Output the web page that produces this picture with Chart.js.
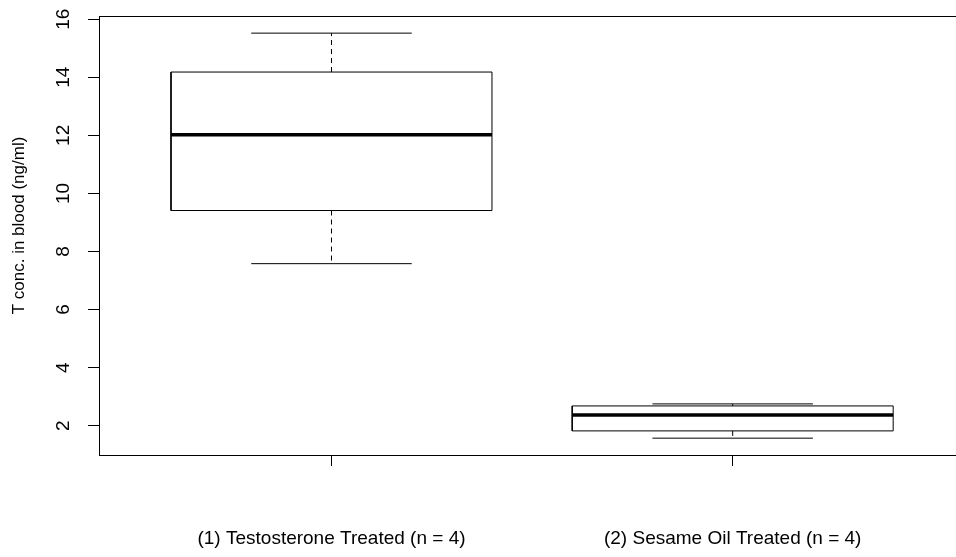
<!DOCTYPE html>
<html lang="en">
<head>
<meta charset="UTF-8">
<title>T conc. in blood boxplot</title>
<script src="https://cdn.jsdelivr.net/npm/chart.js"></script>
<style>
    body { margin: 0; background: #fff; }
    #wrap { width: 956px; height: 557px; }
</style>
</head>
<body>
<div id="wrap"><canvas id="boxChart" width="956" height="557"></canvas></div>
<script>
    // Box statistics, one entry per group
    const groups = ['(1) Testosterone Treated (n = 4)', '(2) Sesame Oil Treated (n = 4)'];
    const whiskerLow = [7.58, 1.57];
    const q1 = [9.41, 1.82];
    const median = [12.02, 2.37];
    const q3 = [14.18, 2.68];
    const whiskerHigh = [15.52, 2.75];
    const yTicks = [2, 4, 6, 8, 10, 12, 14, 16];
    const yTitle = 'T conc. in blood (ng/ml)';

    const BOX_HALF = 0.4, CAP_HALF = 0.2;
    const FONT = '"Liberation Sans", Arial, sans-serif';

    // one straight segment as a line dataset
    function seg(x1, y1, x2, y2, extra) {
        return Object.assign({
            data: [{x: x1, y: y1}, {x: x2, y: y2}],
            borderColor: '#000', borderWidth: 1, pointRadius: 0, fill: false
        }, extra || {});
    }

    const datasets = [];
    groups.forEach((g, i) => {
        const p = i + 1;
        datasets.push({
            data: [
                {x: p - BOX_HALF, y: q1[i]}, {x: p + BOX_HALF, y: q1[i]},
                {x: p + BOX_HALF, y: q3[i]}, {x: p - BOX_HALF, y: q3[i]},
                {x: p - BOX_HALF, y: q1[i]}
            ],
            borderColor: '#000', borderWidth: 1, pointRadius: 0, fill: false
        });
        datasets.push(seg(p - BOX_HALF, median[i], p + BOX_HALF, median[i], {borderWidth: 3.5}));
        datasets.push(seg(p, q3[i], p, whiskerHigh[i], {borderDash: [5, 4]}));
        datasets.push(seg(p, q1[i], p, whiskerLow[i], {borderDash: [5, 4]}));
        datasets.push(seg(p - CAP_HALF, whiskerHigh[i], p + CAP_HALF, whiskerHigh[i]));
        datasets.push(seg(p - CAP_HALF, whiskerLow[i], p + CAP_HALF, whiskerLow[i]));
    });

    // rotated y tick labels and axis title, like base R
    const yLabels = {
        id: 'yLabels',
        afterDraw(chart) {
            const ctx = chart.ctx;
            const y = chart.scales.y;
            const left = chart.chartArea.left;
            ctx.save();
            ctx.fillStyle = '#000';
            ctx.textAlign = 'center';
            ctx.textBaseline = 'middle';
            ctx.font = '19px ' + FONT;
            y.ticks.forEach(t => {
                ctx.save();
                ctx.translate(left - 35, y.getPixelForValue(t.value));
                ctx.rotate(-Math.PI / 2);
                ctx.fillText(String(t.value), 0, 0);
                ctx.restore();
            });
            ctx.font = '17px ' + FONT;
            ctx.translate(left - 80, (chart.chartArea.top + chart.chartArea.bottom) / 2 - 10);
            ctx.rotate(-Math.PI / 2);
            ctx.fillText(yTitle, 0, 0);
            ctx.restore();
        }
    };

    new Chart(document.getElementById('boxChart'), {
        type: 'line',
        data: { datasets },
        plugins: [yLabels],
        options: {
            responsive: false,
            animation: false,
            layout: { padding: 0 },
            plugins: { legend: { display: false }, tooltip: { enabled: false } },
            scales: {
                x: {
                    type: 'linear', min: 0.4205, max: 2.5566,
                    afterBuildTicks: s => { s.ticks = groups.map((g, i) => ({value: i + 1})); },
                    ticks: {
                        callback: (v, i) => groups[i],
                        font: { size: 19, family: FONT }, color: '#000',
                        padding: 61, maxRotation: 0, autoSkip: false
                    },
                    grid: { drawOnChartArea: false, tickLength: 11, tickColor: '#000' },
                    border: { color: '#000', width: 1 },
                    afterFit: s => { s.height = 102; }
                },
                x2: {
                    type: 'linear', position: 'top',
                    ticks: { display: false },
                    grid: { display: false },
                    border: { display: true, color: '#000', width: 1 },
                    afterFit: s => { s.height = 16; }
                },
                y: {
                    type: 'linear', min: 0.99, max: 16.11,
                    afterBuildTicks: s => { s.ticks = yTicks.map(v => ({value: v})); },
                    ticks: { display: false },
                    grid: { drawOnChartArea: false, tickLength: 11, tickColor: '#000' },
                    border: { color: '#000', width: 1 },
                    afterFit: s => { s.width = 99; }
                }
            }
        }
    });
</script>
</body>
</html>
